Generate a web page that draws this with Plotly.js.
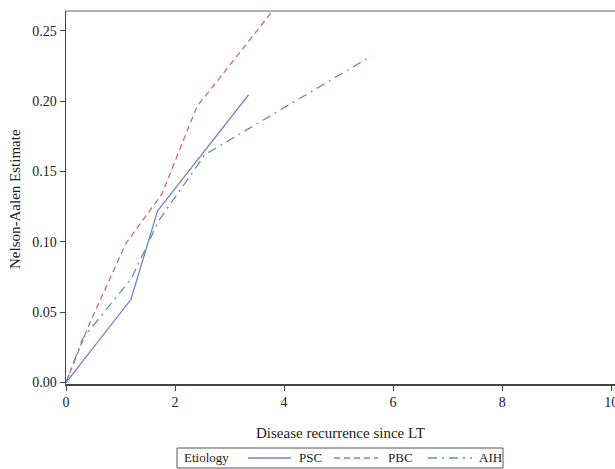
<!DOCTYPE html>
<html>
<head>
<meta charset="utf-8">
<script src="https://cdn.plot.ly/plotly-3.0.1.min.js"></script>
<style>html,body{margin:0;padding:0;background:#fff;}#chart{width:615px;height:469px;}</style>
</head>
<body>
<div id="chart"></div>
<script>
// Data
const seriesNames = ["PSC", "PBC", "AIH"];
const pscX = [0, 1.19, 1.68, 3.35];
const pscY = [0, 0.059, 0.122, 0.2045];
const pbcX = [0, 0.41, 1.1, 1.76, 2.40, 3.85];
const pbcY = [0, 0.040, 0.099, 0.134, 0.196, 0.267];
const aihX = [0, 0.30, 1.2, 1.7, 2.55, 5.6];
const aihY = [0, 0.031, 0.074, 0.115, 0.162, 0.232];
const xTicks = [0, 2, 4, 6, 8, 10];
const yTicks = [0.00, 0.05, 0.10, 0.15, 0.20, 0.25];
const legendTitle = "Etiology";

const font = "Liberation Serif, Times New Roman, serif";
const colors = ["#7b7fd0", "#d0687e", "#5f9a84"];
const dashes = ["solid", "6px,4px", "9px,5px,2px,5px"];
const xs = [pscX, pbcX, aihX];
const ys = [pscY, pbcY, aihY];

const traces = seriesNames.map((n, i) => ({
  x: xs[i], y: ys[i], name: n, mode: "lines", showlegend: false,
  line: {color: colors[i], width: 1.3, dash: dashes[i]}
}));

// Plot-area geometry helpers (pixels -> paper)
const L = 66, W = 549, B = 384, H = 373;
const px = v => (v - L) / W;
const py = v => (B - v) / H;

// Hand-drawn legend (box, samples, labels)
const legY = py(458);
const sampleX = [[248, 291], [334, 378], [428, 472]];
const labelX = [297, 386, 477];
const shapes = [
  {type: "line", xref: "paper", yref: "paper", x0: 0, x1: 1, y0: 1, y1: 1, line: {color: "#999", width: 1.5}},
  {type: "rect", xref: "paper", yref: "paper", x0: px(177), x1: px(503), y0: py(468), y1: py(448),
   line: {color: "#555", width: 1}, fillcolor: "rgba(0,0,0,0)"}
];
const annotations = [
  {text: "Nelson-Aalen Estimate", xref: "paper", yref: "paper", x: px(15), y: py(199),
   xanchor: "center", yanchor: "middle", textangle: -90, showarrow: false,
   font: {family: font, size: 15, color: "#222"}},
  {text: legendTitle, xref: "paper", yref: "paper", x: px(182), y: legY, xanchor: "left", yanchor: "middle",
   showarrow: false, font: {family: font, size: 13, color: "#222"}}
];
seriesNames.forEach((n, i) => {
  shapes.push({type: "line", xref: "paper", yref: "paper", x0: px(sampleX[i][0]), x1: px(sampleX[i][1]),
    y0: legY, y1: legY, line: {color: colors[i], width: 1.3, dash: dashes[i]}});
  annotations.push({text: n, xref: "paper", yref: "paper", x: px(labelX[i]), y: legY, xanchor: "left",
    yanchor: "middle", showarrow: false, font: {family: font, size: 13, color: "#222"}});
});

const layout = {
  width: 615, height: 469,
  margin: {l: 66, r: 0, t: 11, b: 85, autoexpand: false},
  paper_bgcolor: "#fff", plot_bgcolor: "#fff",
  font: {family: font, size: 13, color: "#222"},
  showlegend: false,
  xaxis: {
    range: [0, 10.07], tickvals: xTicks, ticktext: xTicks.map(String),
    showgrid: false, zeroline: false, showline: true, linecolor: "#444", linewidth: 1.5,
    ticks: "outside", ticklen: 5, tickcolor: "#444", tickfont: {family: font, size: 14},
    ticklabeloverflow: "allow",
    title: {text: "Disease recurrence since LT", font: {family: font, size: 15}, standoff: 18}
  },
  yaxis: {
    range: [-0.001, 0.264], tickvals: yTicks, ticktext: yTicks.map(v => v.toFixed(2)),
    showgrid: false, zeroline: false, showline: true, linecolor: "#444", linewidth: 1.5,
    ticks: "outside", ticklen: 5, tickcolor: "#444", tickfont: {family: font, size: 14},
    ticklabeloverflow: "allow"
  },
  annotations: annotations,
  shapes: shapes
};

Plotly.newPlot("chart", traces, layout, {displayModeBar: false, staticPlot: true});
</script>
</body>
</html>
